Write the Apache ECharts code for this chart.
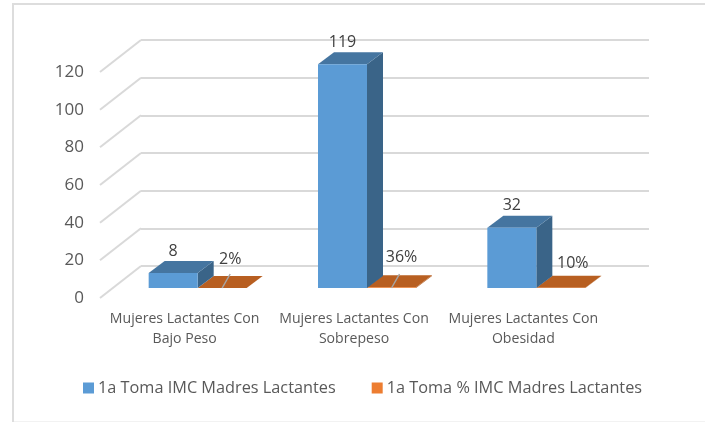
<!DOCTYPE html>
<html><head><meta charset="utf-8">
<style>html,body{margin:0;padding:0;background:#fff}#c{width:705px;height:422px}</style>
<script src="https://cdn.jsdelivr.net/npm/echarts@6/dist/echarts.min.js"></script>
</head><body><div id="c"></div>
<script>
const categories = ['Mujeres Lactantes Con\nBajo Peso', 'Mujeres Lactantes Con\nSobrepeso', 'Mujeres Lactantes Con\nObesidad'];
const tomaValues = [8, 119, 32];
const tomaPercent = [0.02, 0.36, 0.10];
const percentLabels = ['2%', '36%', '10%'];
const yTicks = [0, 20, 40, 60, 80, 100, 120];
const seriesNames = ['1a Toma IMC Madres Lactantes', '1a Toma % IMC Madres Lactantes'];

const FONT = '"Open Sans", sans-serif';
const BAR_W = 49, DX = 16, DY = 12, SHIFT_X = 13, SHIFT_Y = -10;
const pctLift = [17, 19, 13];
const pctNudge = [8, 10, 12];
const pctLeader = [true, true, false];

function bar3d(side, colors, labelFn) {
  return function (params, api) {
    const i = api.value(0), v = api.value(1);
    const base = api.coord([i, 0]), top = api.coord([i, v]);
    const xc = base[0] + SHIFT_X;
    const x0 = side === 0 ? xc - BAR_W : xc, x1 = x0 + BAR_W;
    const y0 = base[1] + SHIFT_Y, y1 = top[1] + SHIFT_Y;
    const poly = (pts, fill) => ({ type: 'polygon', shape: { points: pts }, style: { fill: fill } });
    const kids = [
      poly([[x1, y0], [x1 + DX, y0 - DY], [x1 + DX, y1 - DY], [x1, y1]], colors.side),
      poly([[x0, y1], [x1, y1], [x1 + DX, y1 - DY], [x0 + DX, y1 - DY]], colors.top),
      poly([[x0, y0], [x1, y0], [x1, y1], [x0, y1]], colors.front)
    ];
    kids.push(...labelFn(i, x0, x1, y0, y1));
    return { type: 'group', children: kids };
  };
}
const text = (s, x, y) => ({ type: 'text', style: { text: s, x: x, y: y, align: 'center', verticalAlign: 'middle', font: '16px ' + FONT, fill: '#404040' }, z2: 10 });

const option = {
  animation: false,
  backgroundColor: '#fff',
  graphic: [
    { type: 'rect', silent: true, shape: { x: 12, y: 3, width: 693, height: 2 }, style: { fill: '#DDDDDD' } },
    { type: 'rect', silent: true, shape: { x: 12, y: 3, width: 2, height: 419 }, style: { fill: '#DDDDDD' } },
    { type: 'rect', silent: true, shape: { x: 14, y: 421, width: 691, height: 1 }, style: { fill: '#F2F2F2' } }
  ],
  grid: [
    { left: 100, right: 97, top: 72.4, bottom: 124 },
    { left: 141, right: 56, top: 40, bottom: 156 }
  ],
  xAxis: [
    { type: 'category', gridIndex: 0, data: categories,
      axisLine: { show: false }, axisTick: { show: false },
      axisLabel: { interval: 0, margin: 11, lineHeight: 20, fontSize: 14.1, fontFamily: FONT, color: '#595959' } },
    { type: 'value', gridIndex: 1, min: 0, max: 1, show: false }
  ],
  yAxis: [
    { type: 'value', gridIndex: 0, min: 0, max: 120, interval: 20,
      axisLine: { show: false }, axisTick: { show: false }, splitLine: { show: false },
      axisLabel: { margin: 16, fontSize: 17, fontFamily: FONT, color: '#595959' } },
    { type: 'value', gridIndex: 1, min: 0, max: 120, interval: 20,
      axisLine: { show: false }, axisTick: { show: false }, axisLabel: { show: false },
      splitLine: { show: true, lineStyle: { color: '#D9D9D9', width: 2 } } }
  ],
  legend: {
    data: seriesNames.map((n, i) => ({ name: n, icon: 'rect', itemStyle: { color: ['#5B9BD5', '#ED7D31'][i] } })),
    left: 78, top: 375, itemWidth: 11, itemHeight: 11, itemGap: 36,
    textStyle: { fontSize: 16.3, fontFamily: FONT, color: '#595959', padding: [0, 0, 0, -1] }
  },
  series: [
    { type: 'custom', name: 'walls', xAxisIndex: 1, yAxisIndex: 1, silent: true, z: 1,
      data: yTicks.map(t => [0, t]), encode: { x: 0, y: 1 },
      renderItem: (p, api) => {
        const a = api.coord([0, api.value(1)]);
        return { type: 'line', shape: { x1: a[0], y1: a[1], x2: a[0] - 41, y2: a[1] + 32 },
          style: { stroke: '#D9D9D9', lineWidth: 2 } };
      } },
    { type: 'custom', name: seriesNames[0], xAxisIndex: 0, yAxisIndex: 0, z: 3,
      data: tomaValues.map((v, i) => [i, v]), encode: { x: 0, y: 1 }, itemStyle: { color: '#5B9BD5' },
      renderItem: bar3d(0, { front: '#5B9BD5', side: '#3A6488', top: '#4575A0' },
        (i, x0, x1, y0, y1) => [text(String(tomaValues[i]), (x0 + x1) / 2, y1 - 22)]) },
    { type: 'custom', name: seriesNames[1], xAxisIndex: 0, yAxisIndex: 0, z: 2,
      data: tomaPercent.map((v, i) => [i, v]), encode: { x: 0, y: 1 }, itemStyle: { color: '#ED7D31' },
      renderItem: bar3d(1, { front: '#ED7D31', side: '#B35E22', top: '#B85F21' },
        (i, x0, x1, y0, y1) => {
          const cx = (x0 + x1) / 2;
          const out = [text(percentLabels[i], cx + pctNudge[i], y0 - 12 - pctLift[i])];
          if (pctLeader[i]) out.push({ type: 'line', shape: { x1: cx, y1: y0, x2: cx + 8, y2: y0 - 14 }, style: { stroke: '#A6A6A6', lineWidth: 1.5 } });
          return out;
        }) }
  ]
};
echarts.init(document.getElementById('c'), null, { renderer: 'canvas' }).setOption(option);
</script></body></html>
